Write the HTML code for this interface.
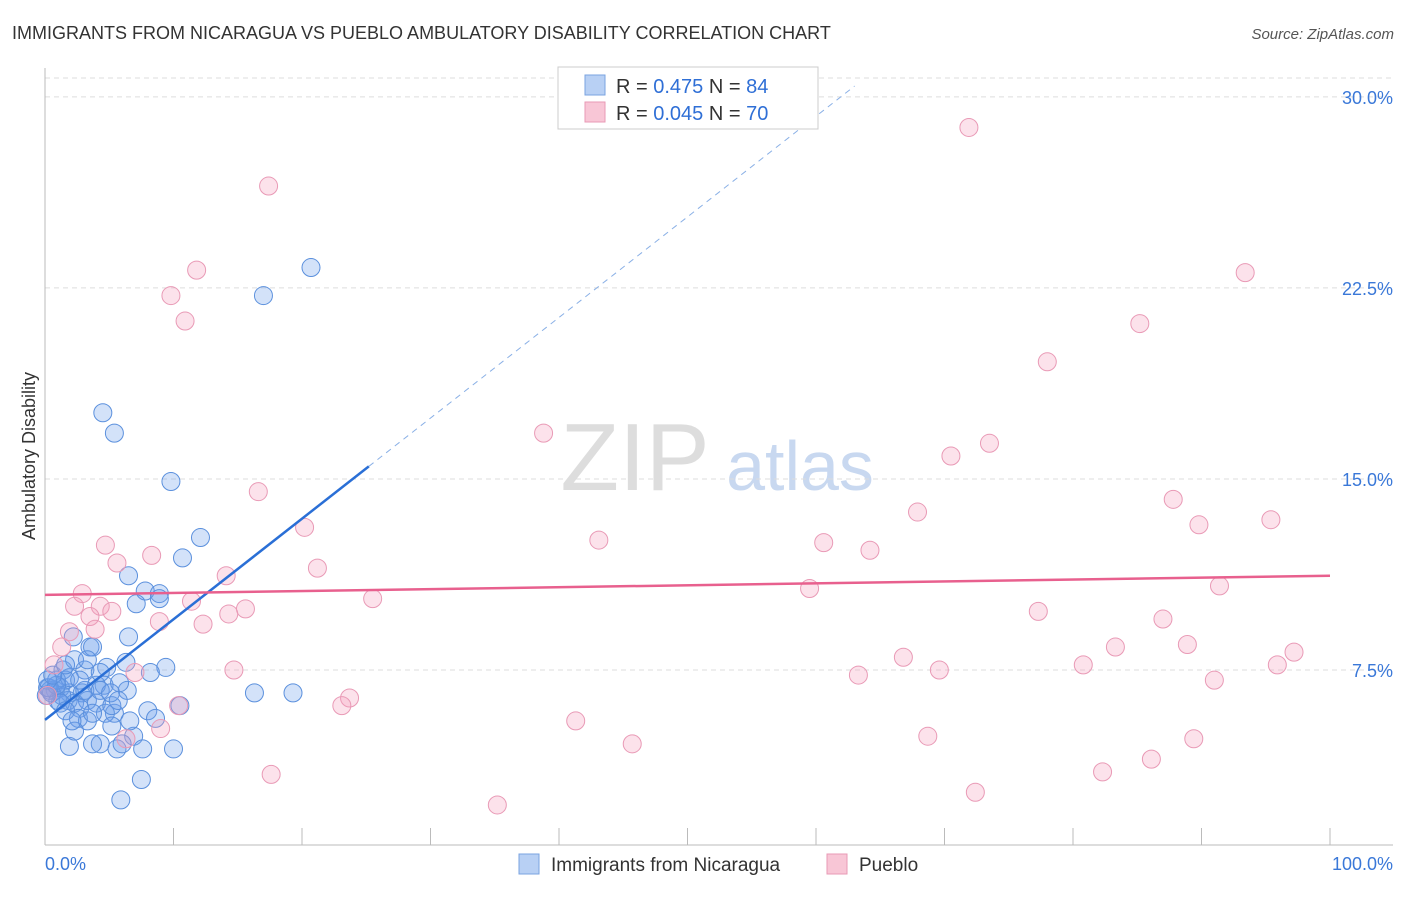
<!DOCTYPE html>
<html><head><meta charset="utf-8"><style>
body{margin:0;background:#fff;font-family:"Liberation Sans",sans-serif}
svg text{font-family:"Liberation Sans",sans-serif}
</style></head><body>
<svg id="c" width="1406" height="892" xmlns="http://www.w3.org/2000/svg">
<text x="12" y="39" font-size="18" fill="#333">IMMIGRANTS FROM NICARAGUA VS PUEBLO AMBULATORY DISABILITY CORRELATION CHART</text>
<text x="1394" y="39" font-size="15" fill="#555" font-style="italic" text-anchor="end">Source: ZipAtlas.com</text>
<text x="35" y="456" font-size="18" fill="#333" text-anchor="middle" transform="rotate(-90 35 456)">Ambulatory Disability</text>
<g><text x="635" y="490" font-size="96" fill="#ddd" font-family="Liberation Serif" text-anchor="middle">ZIP</text><text x="800" y="490" font-size="70" fill="#c8d8f0" text-anchor="middle">atlas</text></g>
<g id="grid"></g><g id="axes"></g><g id="marks"></g>
<g>
<rect x="558" y="67" width="260" height="62" fill="#fff" stroke="#ccc"/>
<rect x="585" y="75" width="20" height="20" fill="#b8d0f4" stroke="#7aa3e0"/>
<rect x="585" y="102" width="20" height="20" fill="#f8c6d6" stroke="#e89ab5"/>
<text x="616" y="93" font-size="20" fill="#333">R = <tspan fill="#2f6fd6">0.475</tspan>   N = <tspan fill="#2f6fd6">84</tspan></text>
<text x="616" y="120" font-size="20" fill="#333">R = <tspan fill="#2f6fd6">0.045</tspan>   N = <tspan fill="#2f6fd6">70</tspan></text>
</g>
<g>
<rect x="519" y="854" width="20" height="20" fill="#b8d0f4" stroke="#7aa3e0"/>
<text x="551" y="871" font-size="19" fill="#333">Immigrants from Nicaragua</text>
<rect x="827" y="854" width="20" height="20" fill="#f8c6d6" stroke="#e89ab5"/>
<text x="859" y="871" font-size="19" fill="#333">Pueblo</text>
</g>
</svg>
<script>
const blueX=[20.7,17.0,4.5,5.4,9.8,12.1,10.7,6.5,7.8,8.9,8.9,7.1,6.5,3.5,3.7,2.2,9.4,8.2,6.3,4.8,3.1,1.4,2.3,4.6,6.4,5.8,4.0,2.9,1.9,1.2,0.8,0.4,0.2,0.5,1.6,1.8,2.3,3.3,4.0,2.7,5.4,4.7,5.2,8.0,8.6,10.5,16.3,19.3,2.6,3.3,4.3,1.9,3.7,5.6,6.9,6.0,7.6,10.0,7.5,5.9,2.3,1.0,1.3,0.3,0.9,1.9,3.1,1.2,4.3,5.1,1.6,3.7,5.7,6.6,0.9,0.2,0.6,1.6,3.3,2.1,2.7,0.1,4.3,5.2];
const blueY=[23.3,22.2,17.6,16.8,14.9,12.7,11.9,11.2,10.6,10.5,10.3,10.1,8.8,8.4,8.4,8.8,7.6,7.4,7.8,7.6,7.5,7.5,7.9,6.9,6.7,7.0,6.9,6.6,6.6,6.8,6.7,6.7,6.8,6.6,7.1,6.3,6.2,6.3,6.2,6.0,5.8,5.8,6.1,5.9,5.6,6.1,6.6,6.6,5.6,5.5,4.6,4.5,4.6,4.4,4.9,4.6,4.4,4.4,3.2,2.4,5.1,6.3,6.5,6.8,7.1,7.2,6.7,6.2,6.7,6.6,5.9,5.8,6.3,5.5,6.9,7.1,7.3,7.7,7.9,5.5,7.1,6.5,7.4,5.3];
const pinkX=[71.9,17.4,11.8,9.8,10.9,93.4,85.2,78.0,38.8,73.5,70.5,16.6,87.8,67.9,20.2,89.8,95.4,43.1,60.6,64.2,4.7,8.3,5.6,21.2,14.1,2.9,59.5,91.4,25.5,2.3,4.3,5.2,11.4,15.6,14.3,8.9,3.5,12.3,77.3,3.9,1.9,87.0,1.3,88.9,83.3,66.8,0.7,14.7,80.8,95.9,97.2,7.0,63.3,69.6,91.0,0.2,23.7,23.1,10.4,9.0,41.3,45.7,68.7,89.4,6.3,86.1,82.3,17.6,35.2,72.4];
const pinkY=[28.8,26.5,23.2,22.2,21.2,23.1,21.1,19.6,16.8,16.4,15.9,14.5,14.2,13.7,13.1,13.2,13.4,12.6,12.5,12.2,12.4,12.0,11.7,11.5,11.2,10.5,10.7,10.8,10.3,10.0,10.0,9.8,10.2,9.9,9.7,9.4,9.6,9.3,9.8,9.1,9.0,9.5,8.4,8.5,8.4,8.0,7.7,7.5,7.7,7.7,8.2,7.4,7.3,7.5,7.1,6.5,6.4,6.1,6.1,5.2,5.5,4.6,4.9,4.8,4.8,4.0,3.5,3.4,2.2,2.7];
const blueTrend=[5.54,0.395]; // intercept, slope
const pinkTrend=[10.45,0.0075];
const yTicks=[7.5,15,22.5,30];
const yTickLabels=["7.5%","15.0%","22.5%","30.0%"];
const xTicks=[0,10,20,30,40,50,60,70,80,90,100];

const NS="http://www.w3.org/2000/svg";
const sx=v=>45+v*12.85, sy=v=>861-v*25.47;
function mk(tag,attrs,parent){const e=document.createElementNS(NS,tag);for(const k in attrs)e.setAttribute(k,attrs[k]);parent.appendChild(e);return e;}
const grid=document.getElementById('grid'),axes=document.getElementById('axes'),marks=document.getElementById('marks');
let g=mk('line',{x1:45,x2:1393,y1:78,y2:78,stroke:'#ddd','stroke-dasharray':'5,4'},grid);


yTicks.forEach((t,i)=>{
  const l=mk('line',{x1:45,x2:1393,y1:sy(t),y2:sy(t),stroke:'#ddd','stroke-dasharray':'5,4'},grid);
  
  
  const tx=mk('text',{x:1393,y:sy(t)+7,'font-size':18,fill:'#3a78d8','text-anchor':'end'},axes);
  tx.textContent=yTickLabels[i];
  
  
});
let a=mk('line',{x1:45,x2:45,y1:68,y2:845,stroke:'#bbb'},axes);


a=mk('line',{x1:45,x2:1393,y1:845,y2:845,stroke:'#bbb'},axes);


xTicks.forEach(t=>{
  const l=mk('line',{x1:sx(t),x2:sx(t),y1:828,y2:845,stroke:'#bbb'},axes);
  
  
});
let t0=mk('text',{x:45,y:870,'font-size':18,fill:'#3a78d8'},axes);t0.textContent='0.0%';


let t1=mk('text',{x:1393,y:870,'font-size':18,fill:'#3a78d8','text-anchor':'end'},axes);t1.textContent='100.0%';


blueX.forEach((x,i)=>{
  const c=mk('circle',{cx:sx(x),cy:sy(blueY[i]),r:9,fill:'rgba(110,160,235,0.3)',stroke:'#5b90dd','stroke-width':1},marks);
  
  
});
pinkX.forEach((x,i)=>{
  const c=mk('circle',{cx:sx(x),cy:sy(pinkY[i]),r:9,fill:'rgba(245,160,190,0.3)',stroke:'#e99ab6','stroke-width':1},marks);
  
  
});
const bEnd=25.2, bDash=63;
let l=mk('line',{x1:sx(0),y1:sy(blueTrend[0]),x2:sx(bEnd),y2:sy(blueTrend[0]+blueTrend[1]*bEnd),stroke:'#2a6fd6','stroke-width':2.5},marks);


l=mk('line',{x1:sx(bEnd),y1:sy(blueTrend[0]+blueTrend[1]*bEnd),x2:sx(bDash),y2:sy(blueTrend[0]+blueTrend[1]*bDash),stroke:'#8ab0e6','stroke-width':1,'stroke-dasharray':'6,5'},marks);


l=mk('line',{x1:sx(0),y1:sy(pinkTrend[0]),x2:sx(100),y2:sy(pinkTrend[0]+pinkTrend[1]*100),stroke:'#e8608e','stroke-width':2.5},marks);


</script>
</body></html>
